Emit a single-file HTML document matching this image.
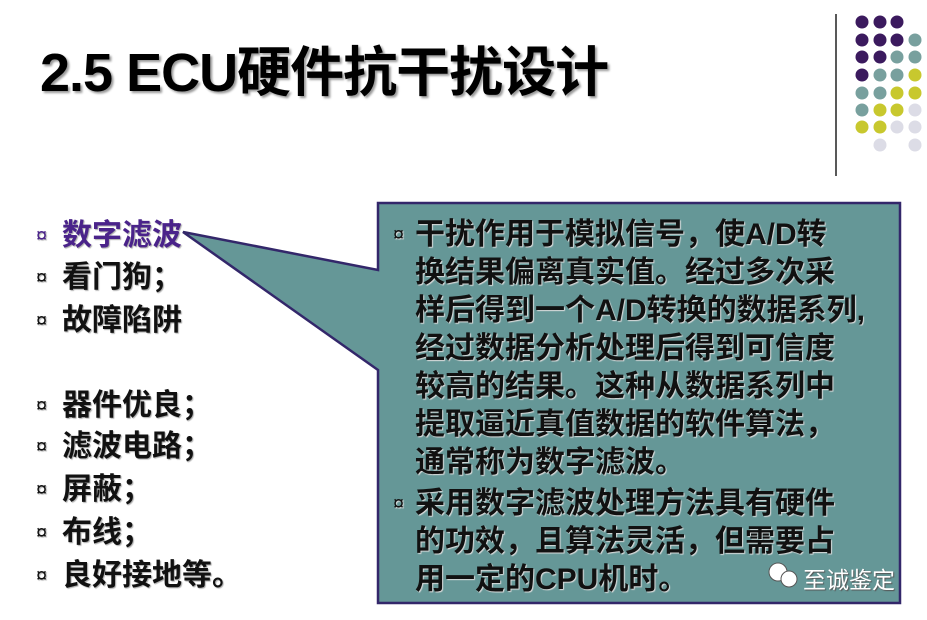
<!DOCTYPE html>
<html><head><meta charset="utf-8"><style>
body{margin:0;width:927px;height:620px;background:#fff;position:relative;overflow:hidden;font-family:"Liberation Sans","Noto Sans CJK SC",sans-serif;}
.t{position:absolute;white-space:nowrap;font-weight:bold;}
#title{left:40px;top:28px;font-size:54px;color:#000;text-shadow:2px 2px 2px #999;letter-spacing:-1px}
.li{position:absolute;left:36px;font-size:30px;font-weight:bold;color:#111;white-space:nowrap;text-shadow:1px 1px 1px #aaa}
.li b{font-size:20px;display:inline-block;width:26px;vertical-align:3px;font-weight:normal}
.bx{position:absolute;left:393px;font-size:30px;font-weight:bold;color:#111;white-space:nowrap;text-shadow:1px 1px 1px #ddd}
.bx .b{font-size:20px;display:inline-block;width:22px;vertical-align:3px;font-weight:normal}
.in{left:415px}
</style></head><body>
<div id="title" class="t">2.5 ECU硬件抗干扰设计</div>
<svg width="927" height="620" style="position:absolute;left:0;top:0">
<line x1="836" y1="14" x2="836" y2="176" stroke="#222" stroke-width="1.5"/>
<g>
<circle cx="862" cy="22" r="6.5" fill="#3b1a5e"/><circle cx="880" cy="22" r="6.5" fill="#3b1a5e"/><circle cx="897" cy="22" r="6.5" fill="#3b1a5e"/>
<circle cx="862" cy="40" r="6.5" fill="#3b1a5e"/><circle cx="880" cy="40" r="6.5" fill="#3b1a5e"/><circle cx="897" cy="40" r="6.5" fill="#3b1a5e"/><circle cx="915" cy="40" r="6.5" fill="#78a09e"/>
<circle cx="862" cy="57" r="6.5" fill="#3b1a5e"/><circle cx="880" cy="57" r="6.5" fill="#3b1a5e"/><circle cx="897" cy="57" r="6.5" fill="#78a09e"/><circle cx="915" cy="57" r="6.5" fill="#78a09e"/>
<circle cx="862" cy="75" r="6.5" fill="#3b1a5e"/><circle cx="880" cy="75" r="6.5" fill="#78a09e"/><circle cx="897" cy="75" r="6.5" fill="#78a09e"/><circle cx="915" cy="75" r="6.5" fill="#c8c82e"/>
<circle cx="862" cy="93" r="6.5" fill="#78a09e"/><circle cx="880" cy="93" r="6.5" fill="#78a09e"/><circle cx="897" cy="93" r="6.5" fill="#c8c82e"/><circle cx="915" cy="93" r="6.5" fill="#c8c82e"/>
<circle cx="862" cy="110" r="6.5" fill="#78a09e"/><circle cx="880" cy="110" r="6.5" fill="#c8c82e"/><circle cx="897" cy="110" r="6.5" fill="#c8c82e"/><circle cx="915" cy="110" r="6.5" fill="#dcdce6"/>
<circle cx="862" cy="127" r="6.5" fill="#c8c82e"/><circle cx="880" cy="127" r="6.5" fill="#c8c82e"/><circle cx="897" cy="127" r="6.5" fill="#dcdce6"/><circle cx="915" cy="127" r="6.5" fill="#dcdce6"/>
<circle cx="880" cy="145" r="6.5" fill="#dcdce6"/><circle cx="915" cy="145" r="6.5" fill="#dcdce6"/>
</g>
<path d="M378,203 L900,203 L900,603 L378,603 L378,370 L183,232 L378,270 Z" fill="#659797" stroke="#33276a" stroke-width="2.5" stroke-linejoin="miter"/>
<circle cx="778" cy="572" r="9" fill="#fff" stroke="#555" stroke-width="1"/>
<circle cx="789" cy="579" r="8" fill="#fff" stroke="#555" stroke-width="1"/>
</svg>
<div class="li" style="top:210px;color:#4a238a"><b>¤</b>数字滤波</div>
<div class="li" style="top:252px"><b>¤</b>看门狗；</div>
<div class="li" style="top:295px"><b>¤</b>故障陷阱</div>
<div class="li" style="top:380px"><b>¤</b>器件优良；</div>
<div class="li" style="top:421px"><b>¤</b>滤波电路；</div>
<div class="li" style="top:464px"><b>¤</b>屏蔽；</div>
<div class="li" style="top:507px"><b>¤</b>布线；</div>
<div class="li" style="top:550px"><b>¤</b>良好接地等。</div>

<div class="bx" style="top:209px"><span class="b">¤</span>干扰作用于模拟信号，使A/D转</div>
<div class="bx in" style="top:247px">换结果偏离真实值。经过多次采</div>
<div class="bx in" style="top:285px">样后得到一个A/D转换的数据系列,</div>
<div class="bx in" style="top:323px">经过数据分析处理后得到可信度</div>
<div class="bx in" style="top:361px">较高的结果。这种从数据系列中</div>
<div class="bx in" style="top:399px">提取逼近真值数据的软件算法，</div>
<div class="bx in" style="top:437px">通常称为数字滤波。</div>
<div class="bx" style="top:478px"><span class="b">¤</span>采用数字滤波处理方法具有硬件</div>
<div class="bx in" style="top:516px">的功效，且算法灵活，但需要占</div>
<div class="bx in" style="top:554px">用一定的CPU机时。</div>
<div class="t" style="left:803px;top:561px;font-size:23px;font-weight:normal;color:#fff;text-shadow:1px 1px 1px #555">至诚鉴定</div>
</body></html>
